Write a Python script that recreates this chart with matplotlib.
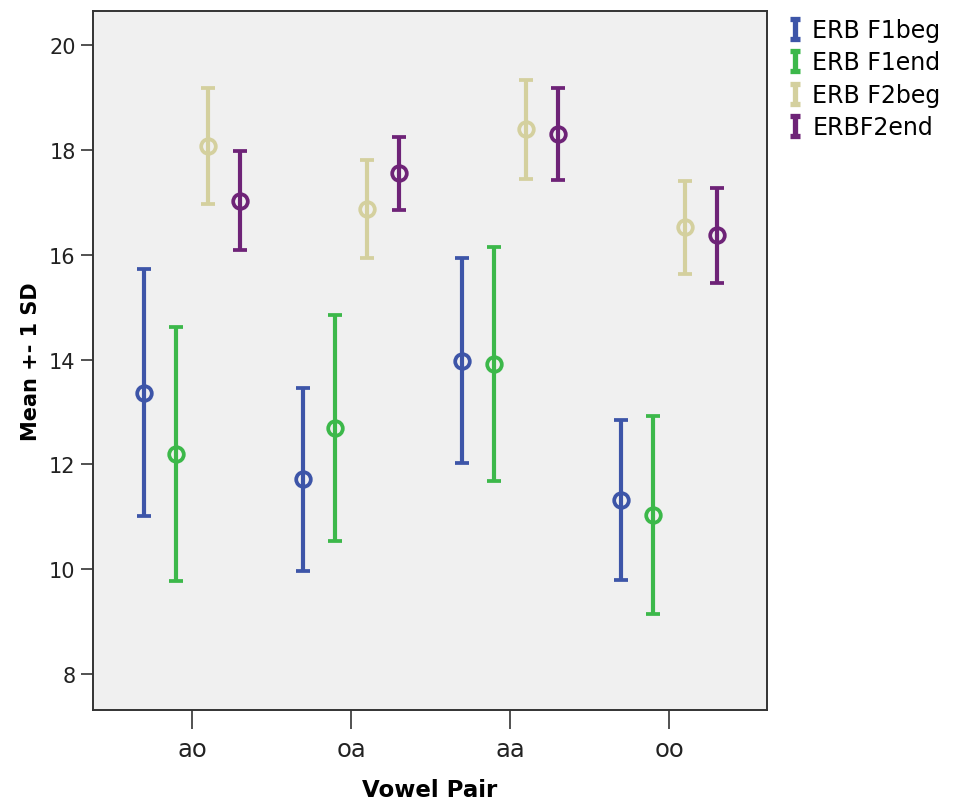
import matplotlib.pyplot as plt
import numpy as np
from matplotlib.path import Path
from matplotlib.lines import Line2D

# Data
pairs = ['ao', 'oa', 'aa', 'oo']
series = ['ERB F1beg', 'ERB F1end', 'ERB F2beg', 'ERBF2end']
f1beg_mean = [13.37, 11.71, 13.98, 11.32]
f1beg_sd = [2.36, 1.74, 1.96, 1.53]
f1end_mean = [12.20, 12.69, 13.92, 11.04]
f1end_sd = [2.42, 2.16, 2.23, 1.89]
f2beg_mean = [18.07, 16.87, 18.39, 16.52]
f2beg_sd = [1.11, 0.94, 0.95, 0.88]
f2end_mean = [17.03, 17.55, 18.31, 16.37]
f2end_sd = [0.94, 0.70, 0.88, 0.91]

means = [f1beg_mean, f1end_mean, f2beg_mean, f2end_mean]
sds = [f1beg_sd, f1end_sd, f2beg_sd, f2end_sd]
colors = ['#3d55a8', '#3cb84a', '#d4d09e', '#6e2377']
offsets = [-0.3, -0.1, 0.1, 0.3]

fig = plt.figure(figsize=(9.55, 8.03), dpi=100)
ax = fig.add_axes([0.0974, 0.1145, 0.7058, 0.8705])
ax.set_facecolor('#f0f0f0')

x = np.arange(len(pairs))
for m, s, c, off in zip(means, sds, colors, offsets):
    ax.errorbar(x + off, m, yerr=s, fmt='o', color=c, mfc='none', mec=c,
                ms=10.5, mew=2.7, elinewidth=3, capsize=5, capthick=3.5)

ax.set_xlim(-0.623, 3.616)
ax.set_ylim(7.31, 20.65)
ax.set_yticks([8, 10, 12, 14, 16, 18, 20])
ax.set_xticks(x)
ax.set_xticklabels(pairs, fontsize=17.5)
ax.tick_params(axis='y', labelsize=15, length=9, width=1.2, colors='#333333',
               labelcolor='#222222')
ax.tick_params(axis='x', length=13.5, width=1.2, colors='#333333', pad=6,
               labelcolor='#222222')
for sp in ax.spines.values():
    sp.set_linewidth(1.4)
    sp.set_color('#333333')

ax.set_xlabel('Vowel Pair', fontsize=16.5, fontweight='bold', labelpad=12)
ax.set_ylabel('Mean +- 1 SD', fontsize=15, fontweight='bold', labelpad=6)

# "I" shaped legend symbols
ibeam = Path([(-0.5, -1), (0.5, -1), (0, -1), (0, 1), (-0.5, 1), (0.5, 1)],
             [Path.MOVETO, Path.LINETO, Path.MOVETO, Path.LINETO, Path.MOVETO, Path.LINETO])
handles = [Line2D([], [], linestyle='none', marker=ibeam, color=c, ms=14, mew=3.8)
           for c in colors]
fig.legend(handles, series, loc='upper left', bbox_to_anchor=(0.806, 0.997),
           frameon=False, fontsize=17, handlelength=0.7, handletextpad=0.4,
           labelspacing=0.36, borderaxespad=0.3)

plt.savefig('out.png', dpi=100)
